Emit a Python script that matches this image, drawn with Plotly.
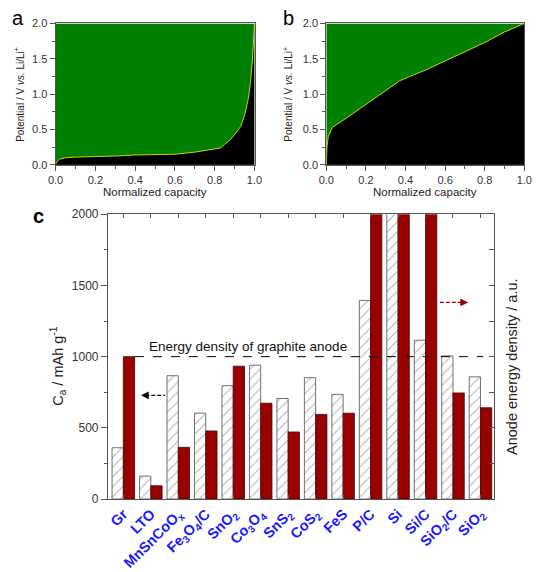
import plotly.graph_objects as go

# ---------------- data ----------------
# panel a: graphite-like potential profile
a_cap = [0.0, 0.005, 0.02, 0.05, 0.1, 0.2, 0.3, 0.4, 0.5, 0.6, 0.7, 0.78, 0.83, 0.85, 0.88, 0.9,
         0.93, 0.95, 0.97, 0.98, 0.99, 1.0]
a_pot = [0.0, 0.04, 0.08, 0.1, 0.11, 0.115, 0.125, 0.14, 0.145, 0.15, 0.18, 0.22, 0.24, 0.29, 0.36, 0.43,
         0.54, 0.7, 0.95, 1.18, 1.5, 2.0]
# panel b: sloping profile
b_cap = [0.0, 0.003, 0.01, 0.03, 0.1, 0.2, 0.3, 0.37, 0.5, 0.6, 0.7, 0.8, 0.9, 1.0]
b_pot = [0.0, 0.25, 0.4, 0.53, 0.66, 0.85, 1.05, 1.19, 1.34, 1.47, 1.6, 1.73, 1.88, 2.0]
pot_max = 2.0

# panel c
materials = ["Gr", "LTO", "MnSnCoO<sub>x</sub>", "Fe<sub>3</sub>O<sub>4</sub>/C", "SnO<sub>2</sub>",
             "Co<sub>3</sub>O<sub>4</sub>", "SnS<sub>2</sub>", "CoS<sub>2</sub>", "FeS", "P/C", "Si",
             "Si/C", "SiO<sub>2</sub>/C", "SiO<sub>2</sub>"]
capacity = [360, 161, 866, 603, 796, 940, 706, 852, 735, 1395, 3579, 1115, 1005, 858]
energy = [1000, 93, 363, 478, 933, 673, 471, 594, 603, 2500, 4500, 2300, 745, 641]
graphite_ref = 1000

FONT = "Liberation Sans, Arial, sans-serif"
AX = "#555555"
GREEN = "#008000"
BLACK = "#000000"
CURVE = "#c8d400"

fig = go.Figure()

for cap, pot, xa, ya in [(a_cap, a_pot, "x", "y"), (b_cap, b_pot, "x2", "y2")]:
    fig.add_trace(go.Scatter(x=[cap[0], cap[-1]], y=[pot_max, pot_max], mode="lines",
                             line=dict(width=0, color=GREEN), fill="tozeroy", fillcolor=GREEN,
                             xaxis=xa, yaxis=ya, showlegend=False, hoverinfo="skip"))
    fig.add_trace(go.Scatter(x=cap, y=pot, mode="lines", line=dict(width=1, color=CURVE),
                             fill="tozeroy", fillcolor=BLACK, xaxis=xa, yaxis=ya, showlegend=False))

# panel c bars
fig.add_trace(go.Bar(x=materials, y=capacity, xaxis="x3", yaxis="y3", width=0.41, offset=-0.41,
                     marker=dict(color="white", line=dict(color="#707070", width=1),
                                 pattern=dict(shape="/", fgcolor="#6a6a6a", bgcolor="white",
                                              size=7, solidity=0.16)),
                     showlegend=False, name="Capacity"))
fig.add_trace(go.Bar(x=materials, y=energy, xaxis="x3", yaxis="y4", width=0.41, offset=0,
                     marker=dict(color="#990000", line=dict(color="#4a0000", width=0.8)),
                     showlegend=False, name="Energy density"))

tickfont = dict(family=FONT, size=11, color="#333333")

def small_axis(domain, anchor, dt, mdt):
    return dict(domain=domain, anchor=anchor, range=[0, 1] if dt == 0.2 else [0, 2],
                dtick=dt, tick0=0, ticks="outside", ticklen=5, tickcolor=AX, tickwidth=1,
                minor=dict(ticks="outside", dtick=mdt, ticklen=3, tickcolor=AX),
                showline=True, linecolor=AX, linewidth=1, mirror=True, showgrid=False,
                zeroline=False, tickfont=tickfont, tickformat=".1f", fixedrange=True)

W, H = 542, 572
def px(v): return v / W
def py(v): return 1 - v / H

layout = dict(
    width=W, height=H, margin=dict(l=0, r=0, t=0, b=0),
    paper_bgcolor="white", plot_bgcolor="white",
    font=dict(family=FONT, color="#333333"),
    xaxis=small_axis([px(49), px(254)], "y", 0.2, 0.1),
    yaxis=small_axis([py(163), py(17)], "x", 0.5, 0.25),
    xaxis2=small_axis([px(328), px(532)], "y2", 0.2, 0.1),
    yaxis2=small_axis([py(163), py(17)], "x2", 0.5, 0.25),
    xaxis3=dict(domain=[px(103), px(501)], anchor="y3", range=[-0.56, 13.5], type="category",
                showline=True, linecolor=AX, linewidth=1, mirror="allticks", ticks="inside",
                ticklen=4, tickcolor=AX, minor=dict(ticks="inside", ticklen=2, tickcolor=AX),
                tickangle=-45, tickfont=dict(family=FONT, size=14.5, color="#1a1aff", weight="bold"),
                showgrid=False, fixedrange=True),
    yaxis3=dict(domain=[py(508), py(214)], anchor="x3", range=[0, 2000], dtick=500,
                ticks="outside", ticklen=6, tickcolor=AX,
                minor=dict(ticks="outside", dtick=250, ticklen=3, tickcolor=AX),
                showline=True, linecolor=AX, linewidth=1, showgrid=False, zeroline=False,
                tickfont=dict(family=FONT, size=12, color="#333333"), fixedrange=True),
    yaxis4=dict(overlaying="y3", anchor="x3", side="right", range=[0, 2000], dtick=500,
                ticks="inside", ticklen=5, tickcolor=AX, showticklabels=False,
                minor=dict(ticks="inside", dtick=250, ticklen=5, tickcolor=AX),
                showline=True, linecolor=AX, linewidth=1, showgrid=False, zeroline=False,
                fixedrange=True),
    bargap=0.18,
)
fig.update_layout(**layout)

# reference line + arrows in panel c
fig.add_shape(type="line", xref="x3", yref="y4", x0=0.42, x1=13.1, y0=graphite_ref, y1=graphite_ref,
              line=dict(color="black", width=1, dash="dash"))
fig.add_annotation(xref="x3", yref="y4", x=4.52, y=graphite_ref, yanchor="bottom", yshift=1,
                   text="Energy density of graphite anode", showarrow=False,
                   font=dict(family=FONT, size=13.5, color="#111111"))
# left arrow (capacity -> left axis)
fig.add_shape(type="line", xref="x3", yref="y3", x0=0.8, x1=1.52, y0=728, y1=728,
              line=dict(color="black", width=1.3, dash="4px,2px"))
fig.add_annotation(xref="x3", yref="y3", axref="x3", ayref="y3", x=0.64, y=728, ax=0.85, ay=728,
                   text="", showarrow=True, arrowhead=2, arrowsize=1.2, arrowwidth=1.3,
                   arrowcolor="black")
# right arrow (energy -> right axis)
fig.add_shape(type="line", xref="x3", yref="y4", x0=11.52, x1=12.3, y0=1381, y1=1381,
              line=dict(color="#990000", width=1.3, dash="4px,2px"))
fig.add_annotation(xref="x3", yref="y4", axref="x3", ayref="y4", x=12.55, y=1381, ax=12.25, ay=1381,
                   text="", showarrow=True, arrowhead=2, arrowsize=1.2, arrowwidth=1.3,
                   arrowcolor="#990000")

# titles and panel letters
def ann(x, y, text, size, angle=0, **kw):
    fig.add_annotation(xref="paper", yref="paper", x=px(x), y=py(y), text=text, showarrow=False,
                       textangle=angle, xanchor="center", yanchor="middle",
                       font=dict(family=FONT, size=size, color=kw.pop("color", "#222222"),
                                 weight=kw.pop("weight", "normal")), **kw)

ylab = "Potential / V <i>vs.</i> Li/Li<sup>+</sup>"
ann(12, 90, ylab, 10, -90)
ann(289, 90, ylab, 10, -90)
ann(151, 191, "Normalized capacity", 11.5)
ann(430, 191, "Normalized capacity", 11.5)
ann(52, 371, "C<sub>a</sub> / mAh g<sup>-1</sup>", 14.5, -90)
ann(520, 371, "Anode energy density / a.u.", 14.5, -90)
ann(10, 11, "a", 20, color="black")
ann(289, 11, "b", 20, color="black")
ann(31, 216, "c", 20, color="black", weight="bold")

fig.write_html("out.html", config={"displayModeBar": False},
               post_script="document.body.style.margin='0';document.body.style.overflow='hidden';")
